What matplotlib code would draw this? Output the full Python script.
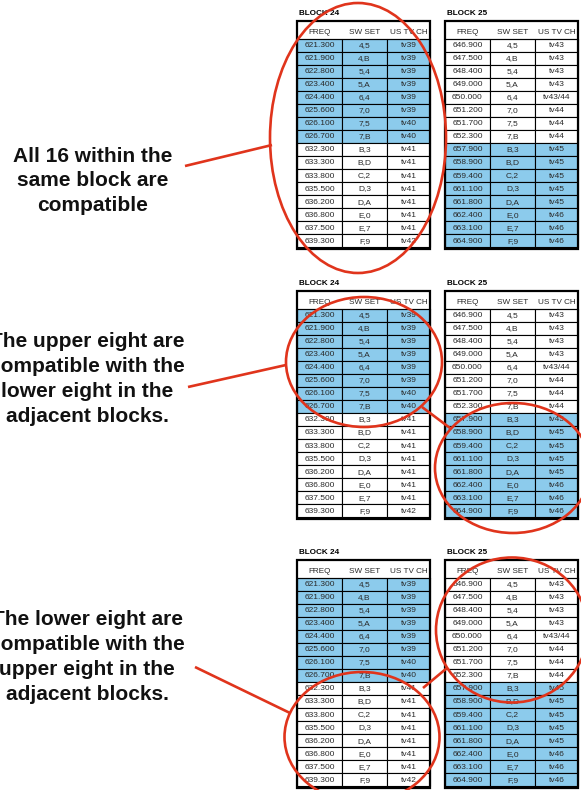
import matplotlib
matplotlib.use("Agg")
import matplotlib.pyplot as plt
from matplotlib.patches import Rectangle, Ellipse

# table contents
headers = ["FREQ", "SW SET", "US TV CH"]
sw_set = ["4,5", "4,B", "5,4", "5,A", "6,4", "7,0", "7,5", "7,B",
          "B,3", "B,D", "C,2", "D,3", "D,A", "E,0", "E,7", "F,9"]
block24_freq = ["621.300", "621.900", "622.800", "623.400", "624.400", "625.600", "626.100", "626.700",
                "632.300", "633.300", "633.800", "635.500", "636.200", "636.800", "637.500", "639.300"]
block24_tv = ["tv39"] * 6 + ["tv40"] * 2 + ["tv41"] * 7 + ["tv42"]
block25_freq = ["646.900", "647.500", "648.400", "649.000", "650.000", "651.200", "651.700", "652.300",
                "657.900", "658.900", "659.400", "661.100", "661.800", "662.400", "663.100", "664.900"]
block25_tv = ["tv43"] * 4 + ["tv43/44"] + ["tv44"] * 3 + ["tv45"] * 5 + ["tv46"] * 3
block24_shaded = [True] * 8 + [False] * 8
block25_shaded = [False] * 8 + [True] * 8

captions = ["All 16 within the\nsame block are\ncompatible",
            "The upper eight are\ncompatible with the\nlower eight in the\nadjacent blocks.",
            "The lower eight are\ncompatible with the\nupper eight in the\nadjacent blocks."]

BLUE = "#8ccbec"
RED = "#e0341c"
INK = "#2a2a2a"
FONT = "Liberation Sans"

fig = plt.figure(figsize=(5.81, 7.90), dpi=100)
ax = fig.add_axes([0, 0, 1, 1])
ax.set_xlim(0, 581)
ax.set_ylim(790, 0)
ax.axis("off")

col_edges = [0, 45, 90, 133]
header_h = 18.3
row_h = 13.02


def draw_table(x0, y0, title, freqs, tvs, shaded):
    ax.text(x0 + 2, y0 - 7, title, fontsize=5.9, fontweight="bold", family=FONT,
            color="black", ha="left", va="center")
    top = y0 + header_h
    for i, (f, s, t) in enumerate(zip(freqs, sw_set, tvs)):
        y = top + i * row_h
        for j, val in enumerate([f, s, t]):
            xa, xb = x0 + col_edges[j], x0 + col_edges[j + 1]
            ax.add_patch(Rectangle((xa, y), xb - xa, row_h,
                                   facecolor=BLUE if shaded[i] else "white",
                                   edgecolor="black", lw=0.8, zorder=1))
            ax.text((xa + xb) / 2, y + row_h / 2 + 0.3, val, fontsize=6.0, family=FONT,
                    color=INK, ha="center", va="center", zorder=2)
    for j, h in enumerate(headers):
        xa, xb = x0 + col_edges[j], x0 + col_edges[j + 1]
        ax.text((xa + xb) / 2, y0 + 12, h, fontsize=5.9, family=FONT,
                color=INK, ha="center", va="center", zorder=2)
    ax.plot([x0, x0 + col_edges[-1]], [top, top], color="black", lw=0.8, zorder=2)
    bottom = top + len(freqs) * row_h + 1.5
    ax.add_patch(Rectangle((x0, y0), col_edges[-1], bottom - y0, facecolor="none",
                           edgecolor="black", lw=1.6, zorder=3))


offsets = [0, 270, 539]
for k, off in enumerate(offsets):
    draw_table(297, 20.7 + off, "BLOCK 24", block24_freq, block24_tv, block24_shaded)
    draw_table(445, 20.7 + off, "BLOCK 25", block25_freq, block25_tv, block25_shaded)

# the reference crops the left edge of captions 2 and 3 as well
text_pos = [(93, 181), (87, 379), (87, 657)]
for (tx, ty), cap in zip(text_pos, captions):
    ax.text(tx, ty, cap, fontsize=15, fontweight="bold", family=FONT, color="#111111",
            ha="center", va="center", linespacing=1.38)


def ring(cx, cy, w, h):
    ax.add_patch(Ellipse((cx, cy), w, h, facecolor="none", edgecolor=RED, lw=1.9, zorder=5))


def stroke(x1, y1, x2, y2):
    ax.plot([x1, x2], [y1, y2], color=RED, lw=1.9, zorder=5, solid_capstyle="butt")


# panel 1
ring(358, 138, 176, 270)
stroke(185, 166, 272, 145)
# panel 2
ring(364, 362, 156, 130)
ring(513, 468, 156, 130)
stroke(188, 387, 286, 365)
stroke(422, 407, 450, 428)
# panel 3
ring(512, 630, 152, 145)
ring(362, 737, 155, 130)
stroke(195, 667, 290, 713)
stroke(423, 688, 447, 668)

fig.savefig("out.png", dpi=100)
